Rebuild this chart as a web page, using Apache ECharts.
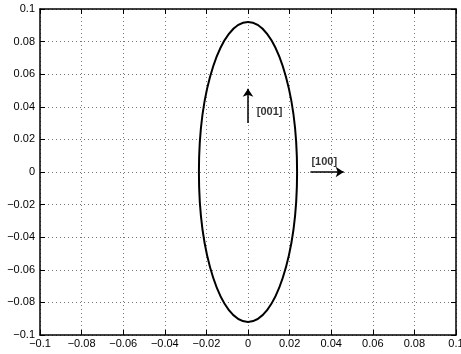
<!DOCTYPE html>
<html><head><meta charset="utf-8">
<script src="https://cdn.jsdelivr.net/npm/echarts@6/dist/echarts.min.js"></script>
<style>html,body{margin:0;padding:0;background:#fff}#c{width:461px;height:354px}</style>
</head><body><div id="c"></div>
<script>
// Ellipse: center and semi-axes
const ellipseCenter = [0, 0];
const ellipseRadii = [0.0236, 0.092];
// Arrows: [start, end]
const arrow001 = [[0, 0.03], [0, 0.051]];
const arrow100 = [[0.03, 0], [0.046, 0]];
// Text labels: [x, y, text]
const labels = [[0.0042, 0.037, '[001]'], [0.0305, 0.006, '[100]']];
const xRange = [-0.1, 0.1], yRange = [-0.1, 0.1], tickStep = 0.02;

function fmt(v) {
  const r = Math.round(v * 100) / 100;
  if (r === 0) return '0';
  return (r < 0 ? '\u2212' : '') + String(Math.abs(r));
}
const font = 'Liberation Sans, Arial, sans-serif';
const axisBase = {
  type: 'value', interval: tickStep,
  axisLine: { show: true, onZero: false, lineStyle: { color: '#000', width: 1.5 } },
  axisTick: { show: true, inside: true, length: 5, lineStyle: { color: '#000', width: 1 } },
  axisLabel: { show: false },
  splitLine: { show: false }
};
const chart = echarts.init(document.getElementById('c'), null, { renderer: 'canvas' });
chart.setOption({
  animation: false,
  backgroundColor: '#fff',
  grid: { left: 40, right: 5, top: 9, bottom: 19, containLabel: false, outerBoundsMode: 'none' },
  xAxis: [
    Object.assign({}, axisBase, {
      min: xRange[0], max: xRange[1], position: 'bottom',
      axisLabel: { show: true, formatter: fmt, color: '#000', fontSize: 11, fontFamily: font, margin: 3, showMinLabel: true, showMaxLabel: true, hideOverlap: false },
      splitLine: { show: true, lineStyle: { color: '#777', type: [1, 3], width: 1 } }
    }),
    Object.assign({}, axisBase, { min: xRange[0], max: xRange[1], position: 'top' })
  ],
  yAxis: [
    Object.assign({}, axisBase, {
      min: yRange[0], max: yRange[1], position: 'left',
      axisLabel: { show: true, formatter: fmt, color: '#000', fontSize: 11, fontFamily: font, margin: 5 },
      splitLine: { show: true, lineStyle: { color: '#777', type: [1, 3], width: 1 } }
    }),
    Object.assign({}, axisBase, { min: yRange[0], max: yRange[1], position: 'right' })
  ],
  series: [
    {
      type: 'custom', coordinateSystem: 'cartesian2d', xAxisIndex: 0, yAxisIndex: 0,
      data: [[ellipseCenter[0], ellipseCenter[1], ellipseRadii[0], ellipseRadii[1]]],
      renderItem: function (params, api) {
        const c = api.coord([api.value(0), api.value(1)]);
        const s = api.size([api.value(2), api.value(3)]);
        return {
          type: 'ellipse',
          shape: { cx: c[0], cy: c[1], rx: s[0], ry: s[1] },
          style: { fill: 'none', stroke: '#000', lineWidth: 2 }
        };
      },
      z: 5
    },
    {
      type: 'lines', coordinateSystem: 'cartesian2d', xAxisIndex: 0, yAxisIndex: 0,
      symbol: ['none', 'arrow'], symbolSize: [0, 8],
      lineStyle: { color: '#000', width: 1.5, opacity: 1 },
      data: [{ coords: arrow001 }, { coords: arrow100 }],
      z: 6
    },
    {
      type: 'scatter', xAxisIndex: 0, yAxisIndex: 0, symbolSize: 0,
      data: labels.map(l => ({ value: [l[0], l[1]], name: l[2] })),
      label: { show: true, position: 'right', distance: 0, formatter: p => p.name, color: '#000', fontSize: 11, fontWeight: 'bold', fontFamily: font },
      z: 7
    }
  ]
});
</script></body></html>
